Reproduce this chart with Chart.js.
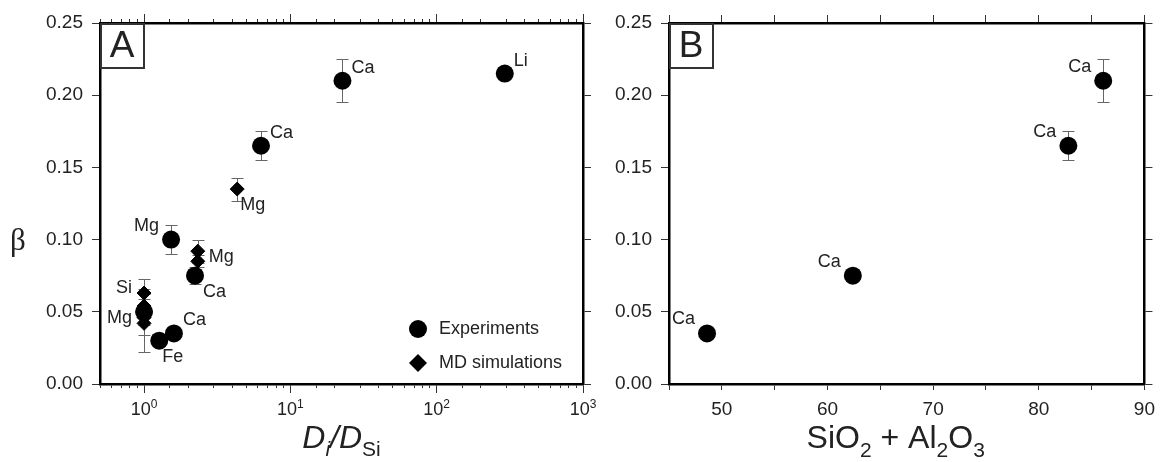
<!DOCTYPE html>
<html>
<head>
<meta charset="utf-8">
<script src="https://cdn.jsdelivr.net/npm/chart.js@4"></script>
<style>
  html, body { margin: 0; padding: 0; background: #fff; }
  #wrap { position: relative; width: 1163px; height: 462px; }
  canvas { position: absolute; top: 0; }
  #chartA { left: 0; }
  #chartB { left: 600px; }
</style>
</head>
<body>
<div id="wrap">
  <canvas id="chartA" width="600" height="462"></canvas>
  <canvas id="chartB" width="563" height="462"></canvas>
</div>
<script>
// Panel A: beta against D_i / D_Si (log axis)
const expRatio = [292, 22.7, 6.3, 1.53, 2.23, 1.0, 1.27, 1.6];
const expBeta  = [0.215, 0.21, 0.165, 0.10, 0.075, 0.05, 0.03, 0.035];
const expErr   = [0, 0.015, 0.01, 0.01, 0.006, 0.016, 0, 0];
const expNames = ['Li', 'Ca', 'Ca', 'Mg', 'Ca', '', 'Fe', 'Ca'];

const mdRatio = [4.33, 2.33, 2.33, 1.0, 1.0, 1.0, 1.0];
const mdBeta  = [0.135, 0.092, 0.085, 0.063, 0.054, 0.046, 0.042];
const mdErr   = [0.008, 0.008, 0.004, 0.01, 0.005, 0.005, 0.02];
const mdNames = ['Mg', 'Mg', '', 'Si', '', '', 'Mg'];

// Panel B: beta against SiO2 + Al2O3
const oxideSum   = [48.6, 62.4, 82.8, 86.1];
const oxideBeta  = [0.035, 0.075, 0.165, 0.21];
const oxideErr   = [0, 0, 0.01, 0.015];
const oxideNames = ['Ca', 'Ca', 'Ca', 'Ca'];

const legendNames = ['Experiments', 'MD simulations'];
const decades = [1, 10, 100, 1000];

// where each point label sits relative to its point
const expSide   = ['ne', 'ne', 'ne', 'nw', 'se', '', 's', 'ne'];
const mdSide    = ['s', 'e', '', 'w', '', '', 'w'];
const oxideSide = ['nw', 'nw', 'nw', 'nw'];

const FONT = 'Liberation Sans';
const INK = '#222';
const sideOffsets = {
  ne: [9, -13, 'left'], nw: [-12, -14, 'right'], se: [8, 16, 'left'],
  s: [3, 16, 'left'], e: [11, 6, 'left'], w: [-12, -5, 'right']
};

function pts(xs, ys) { return xs.map((x, i) => ({x: x, y: ys[i]})); }

function drawRich(ctx, parts, x, y) {
  let cx = x;
  parts.forEach(p => {
    ctx.font = (p[1] ? p[1] + ' ' : '') + p[2] + 'px "' + FONT + '"';
    ctx.fillText(p[0], cx, y + p[3]);
    cx += ctx.measureText(p[0]).width;
  });
  return cx - x;
}
function richWidth(ctx, parts) {
  let w = 0;
  parts.forEach(p => {
    ctx.font = (p[1] ? p[1] + ' ' : '') + p[2] + 'px "' + FONT + '"';
    w += ctx.measureText(p[0]).width;
  });
  return w;
}

function marker(ctx, style, x, y, r) {
  ctx.beginPath();
  if (style === 'circle') ctx.arc(x, y, r, 0, Math.PI * 2);
  else { ctx.moveTo(x - r, y); ctx.lineTo(x, y - r); ctx.lineTo(x + r, y); ctx.lineTo(x, y + r); ctx.closePath(); }
  ctx.fill();
}

const decor = {
  id: 'decor',
  beforeDatasetsDraw(chart) {
    const ctx = chart.ctx, xs = chart.scales.x, ys = chart.scales.y;
    ctx.save();
    ctx.strokeStyle = '#666';
    ctx.lineWidth = 1;
    chart.data.datasets.forEach(ds => {
      ds.data.forEach((p, i) => {
        const e = ds.errors[i];
        if (!e) return;
        const px = Math.round(xs.getPixelForValue(p.x)) + 0.5;
        const y0 = Math.round(ys.getPixelForValue(p.y - e)) + 0.5;
        const y1 = Math.round(ys.getPixelForValue(p.y + e)) + 0.5;
        ctx.beginPath();
        ctx.moveTo(px, y0); ctx.lineTo(px, y1);
        ctx.moveTo(px - 6, y0); ctx.lineTo(px + 6, y0);
        ctx.moveTo(px - 6, y1); ctx.lineTo(px + 6, y1);
        ctx.stroke();
      });
    });
    ctx.restore();
  },
  afterDatasetsDraw(chart) {
    const ctx = chart.ctx, xs = chart.scales.x, ys = chart.scales.y;
    ctx.save();
    ctx.fillStyle = INK;
    ctx.font = '18px "' + FONT + '"';
    ctx.textBaseline = 'middle';
    chart.data.datasets.forEach(ds => {
      ds.data.forEach((p, i) => {
        const name = ds.names[i];
        if (!name) return;
        const o = sideOffsets[ds.sides[i]];
        ctx.textAlign = o[2];
        ctx.fillText(name, xs.getPixelForValue(p.x) + o[0], ys.getPixelForValue(p.y) + o[1]);
      });
    });
    ctx.restore();
  },
  afterDraw(chart, args, opts) {
    const ctx = chart.ctx, a = chart.chartArea;
    ctx.save();
    // panel letter
    ctx.fillStyle = '#fff';
    ctx.fillRect(a.left, a.top, 44, 45);
    ctx.strokeStyle = '#333';
    ctx.lineWidth = 2;
    ctx.strokeRect(a.left + 1, a.top + 1, 43, 44);
    ctx.fillStyle = INK;
    ctx.font = '37px "' + FONT + '"';
    ctx.textAlign = 'center';
    ctx.textBaseline = 'middle';
    ctx.fillText(opts.letter, a.left + 22, a.top + 24);

    // axis title
    ctx.textAlign = 'left';
    ctx.textBaseline = 'alphabetic';
    const w = richWidth(ctx, opts.title);
    drawRich(ctx, opts.title, (a.left + a.right) / 2 - w / 2 + opts.titleShift, 448);

    if (opts.beta) {
      ctx.font = '31px "Liberation Serif"';
      ctx.textAlign = 'center';
      ctx.textBaseline = 'middle';
      ctx.fillText('\u03b2', 18, 242);
    }

    if (opts.decadeLabels) {
      const xs = chart.scales.x;
      // longer ticks at the decades, labels with superscript exponent
      ctx.strokeStyle = '#333';
      ctx.lineWidth = 1;
      ctx.beginPath();
      decades.forEach(d => {
        const px = Math.round(xs.getPixelForValue(d) - 0.5) + 0.5;
        ctx.moveTo(px, a.bottom + 4); ctx.lineTo(px, a.bottom + 9);
        ctx.moveTo(px, a.top - 4); ctx.lineTo(px, a.top - 9);
      });
      ctx.stroke();
      ctx.fillStyle = INK;
      ctx.textAlign = 'left';
      ctx.textBaseline = 'alphabetic';
      decades.forEach(d => {
        const parts = [['10', '', 18, 0], [String(Math.round(Math.log10(d))), '', 12, -7]];
        const lw = richWidth(ctx, parts);
        drawRich(ctx, parts, xs.getPixelForValue(d) - lw / 2, 415);
      });
    }

    if (opts.legend) {
      ctx.font = '18px "' + FONT + '"';
      ctx.textAlign = 'left';
      ctx.textBaseline = 'middle';
      chart.data.datasets.forEach((ds, k) => {
        const y = 329 + k * 34;
        ctx.fillStyle = '#000';
        marker(ctx, ds.pointStyle, 418, y, 9);
        ctx.fillStyle = INK;
        ctx.fillText(legendNames[k], 439, y);
      });
    }
    ctx.restore();
  }
};

function grid(len) {
  return { drawOnChartArea: false, drawTicks: true, tickLength: len, color: '#333', lineWidth: 1 };
}
const border = { color: '#000', width: 2.5 };
const tickFont = { family: FONT, size: 19 };

function yAxes(leftWidth, rightWidth) {
  return {
    y: {
      position: 'left', min: 0, max: 0.25,
      afterFit: s => { s.width = leftWidth; },
      grid: grid(8), border: border,
      ticks: { stepSize: 0.05, padding: 9, color: INK, font: tickFont, callback: v => v.toFixed(2) }
    },
    y2: {
      position: 'right', min: 0, max: 0.25,
      afterFit: s => { s.width = rightWidth; },
      grid: grid(8), border: border,
      ticks: { stepSize: 0.05, callback: () => '' }
    }
  };
}

function xAxes(type, min, max, step, labelFn, lenBottom, lenTop) {
  const base = { type: type, min: min, max: max, border: border };
  return {
    x: Object.assign({}, base, {
      position: 'bottom',
      grid: grid(lenBottom),
      afterFit: s => { s.height = 78; },
      ticks: { stepSize: step, autoSkip: false, maxRotation: 0, padding: 8, color: INK, font: tickFont, callback: labelFn }
    }),
    x2: Object.assign({}, base, {
      position: 'top',
      grid: grid(lenTop),
      afterFit: s => { s.height = 23; },
      ticks: { stepSize: step, autoSkip: false, maxRotation: 0, callback: () => '' }
    })
  };
}

const common = {
  responsive: false,
  animation: false,
  layout: { padding: 0 },
  events: []
};

new Chart(document.getElementById('chartA'), {
  type: 'scatter',
  data: {
    datasets: [{
      label: legendNames[0],
      data: pts(expRatio, expBeta),
      errors: expErr, names: expNames, sides: expSide,
      pointStyle: 'circle', pointRadius: 9,
      backgroundColor: '#000', borderColor: '#000', borderWidth: 0
    }, {
      label: legendNames[1],
      data: pts(mdRatio, mdBeta),
      errors: mdErr, names: mdNames, sides: mdSide,
      pointStyle: 'rectRot', pointRadius: 7,
      backgroundColor: '#000', borderColor: '#000', borderWidth: 1
    }]
  },
  options: Object.assign({}, common, {
    scales: Object.assign(xAxes('logarithmic', 0.5, 1000, undefined, () => '', 4, 4), yAxes(100, 17)),
    plugins: {
      legend: { display: false },
      tooltip: { enabled: false },
      decor: {
        letter: 'A', beta: true, legend: true, decadeLabels: true, titleShift: 0,
        title: [['D', 'italic', 32, 0], ['i', 'italic', 21, 8], ['/', 'italic', 32, 0], ['D', 'italic', 32, 0], ['Si', '', 21, 8]]
      }
    }
  }),
  plugins: [decor]
});

new Chart(document.getElementById('chartB'), {
  type: 'scatter',
  data: {
    datasets: [{
      label: legendNames[0],
      data: pts(oxideSum, oxideBeta),
      errors: oxideErr, names: oxideNames, sides: oxideSide,
      pointStyle: 'circle', pointRadius: 9,
      backgroundColor: '#000', borderColor: '#000', borderWidth: 0
    }]
  },
  options: Object.assign({}, common, {
    scales: Object.assign(xAxes('linear', 45, 90, 5, v => (v % 10 === 0 ? v : ''), 6, 8), yAxes(69, 13)),
    plugins: {
      legend: { display: false },
      tooltip: { enabled: false },
      decor: {
        letter: 'B', beta: false, legend: false, decadeLabels: false, titleShift: -11,
        title: [['SiO', '', 32, 0], ['2', '', 21, 9], [' + Al', '', 32, 0], ['2', '', 21, 9], ['O', '', 32, 0], ['3', '', 21, 9]]
      }
    }
  }),
  plugins: [decor]
});
</script>
</body>
</html>
